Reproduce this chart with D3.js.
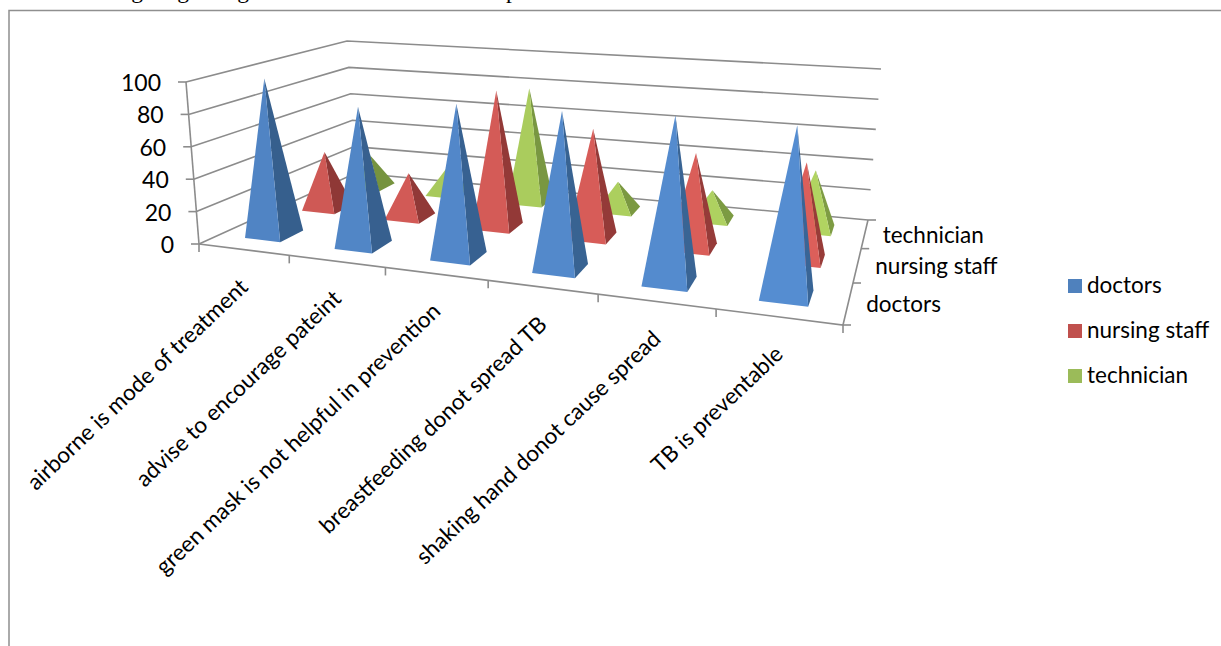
<!DOCTYPE html>
<html>
<head>
<meta charset="utf-8">
<script src="https://cdn.jsdelivr.net/npm/d3@7"></script>
<style>
  html, body { margin: 0; padding: 0; background: #fff; overflow: hidden; }
  text { font-family: Lato, "Open Sans", sans-serif; fill: #000; }
</style>
</head>
<body>
<div id="chart"></div>
<script>
// Data
const categories = ["airborne is mode of treatment", "advise to encourage pateint", "green mask is not helpful in prevention", "breastfeeding donot spread TB", "shaking hand donot cause spread", "TB is preventable"];
const seriesNames = ["doctors", "nursing staff", "technician"];
const doctors = [99, 86, 93, 94, 97, 97];
const nursingStaff = [38, 29, 89, 69, 59, 59];
const technician = [22, 19, 79, 19, 19, 38];
const valueTicks = [0, 20, 40, 60, 80, 100];

const seriesValues = [doctors, nursingStaff, technician];
const faceColors = [
    { front: "#5084c4", side: "#365f8d", key: "#4f81bd" },
    { front: "#cf5955", side: "#8f3836", key: "#c0504d" },
    { front: "#a6c75b", side: "#76933f", key: "#9bbb59" }
];

const width = 1221;
const height = 646;

const svg = d3.select("#chart").append("svg")
    .attr("width", width)
    .attr("height", height);

// Box corners on screen: [front-left, front-right, back-right, back-left]
const floorQuad = [[199, 244], [843, 325], [868, 220], [356, 173]];
const topQuad = [[186, 82], [857, 140], [881, 69], [347, 41]];

// The slots get wider towards the viewer, these two warp the 0-1 box coordinates
const warpU = u => u / (1.227 - 0.227 * u);
const warpT = t => 1.333 * t / (1 + 0.333 * t);

function bilinear(q, u, t) {
    const a = warpU(u), b = warpT(t);
    const fx = q[0][0] + (q[1][0] - q[0][0]) * a, fy = q[0][1] + (q[1][1] - q[0][1]) * a;
    const bx = q[3][0] + (q[2][0] - q[3][0]) * a, by = q[3][1] + (q[2][1] - q[3][1]) * a;
    return [fx + (bx - fx) * b, fy + (by - fy) * b];
}

// the library scales give the position inside the box (0-1 on each axis)
const uScale = d3.scaleBand().domain(d3.range(categories.length)).range([0, 1]);
const tScale = d3.scaleBand().domain(d3.range(seriesNames.length)).range([0, 1]);
const vScale = d3.scaleLinear().domain([0, 100]).range([0, 1]);

function project(u, t, value) {
    const v = vScale(value);
    const a = bilinear(floorQuad, u, t), b = bilinear(topQuad, u, t);
    return [a[0] + (b[0] - a[0]) * v, a[1] + (b[1] - a[1]) * v];
}

const line = d3.line();
const gridColor = "#8c8c8c";

// Page frame and the line of text that the crop cuts at the top edge
svg.append("path")
    .attr("d", "M9,646V10.5H1221")
    .attr("fill", "none")
    .attr("stroke", "#8f8f8f")
    .attr("stroke-width", 1.5);
svg.append("text")
    .attr("x", 113).attr("y", -2)
    .style("font-family", '"Liberation Serif", serif')
    .style("font-size", "23.5px")
    .style("word-spacing", "10px")
    .text("ing regarding");
svg.append("text")
    .attr("x", 506).attr("y", -2)
    .style("font-family", '"Liberation Serif", serif')
    .style("font-size", "23.5px")
    .text("p");

// Walls: gridlines on left and back wall
const grid = svg.append("g").attr("fill", "none").attr("stroke", gridColor).attr("stroke-width", 1.6);
valueTicks.forEach(v => {
    grid.append("path").attr("d", line([project(0, 0, v), project(0, 1, v), project(1, 1, v)]));
    // small tick left of the value axis
    const p = project(0, 0, v);
    grid.append("path").attr("d", line([[p[0] - 8, p[1]], p]));
    svg.append("text")
        .attr("x", p[0] - 25)
        .attr("y", p[1] + 9)
        .attr("text-anchor", "end")
        .style("font-size", "23px")
        .text(v);
});
grid.append("path").attr("d", line([project(0, 0, 0), project(0, 0, 100)]));

// Floor edges
grid.append("path").attr("d", line([project(0, 0, 0), project(1, 0, 0), project(1, 1, 0)]));

// Category ticks and rotated labels
categories.forEach((c, i) => {
    const p = project(uScale(i), 0, 0);
    grid.append("path").attr("d", line([p, [p[0], p[1] + 8]]));
    const q = project(uScale(i) + uScale.bandwidth() * 0.5, 0, 0);
    svg.append("text")
        .attr("transform", `translate(${q[0] + 6},${q[1] + 39}) rotate(-43.5)`)
        .attr("text-anchor", "end")
        .style("font-size", "22.5px")
        .text(c);
});
const endTick = project(1, 0, 0);
grid.append("path").attr("d", line([endTick, [endTick[0], endTick[1] + 8]]));

// Depth axis ticks and labels
[0, 1, 2, 3].forEach(k => {
    const p = project(1, k / 3, 0);
    grid.append("path").attr("d", line([p, [p[0] + 8, p[1]]]));
});
seriesNames.forEach((s, k) => {
    const p = project(1, tScale(k) + tScale.bandwidth() / 2, 0);
    svg.append("text")
        .attr("x", p[0] + 18)
        .attr("y", p[1] + 9)
        .style("font-size", "22.5px")
        .text(s);
});

// Pyramids, back row first so the front row covers it
const bw = uScale.bandwidth() * 0.2, bd = tScale.bandwidth() * 0.2;
const marks = svg.append("g");
[2, 1, 0].forEach(k => {
    const col = faceColors[k];
    seriesValues[k].forEach((value, i) => {
        const uc = uScale(i) + uScale.bandwidth() / 2;
        const tc = tScale(k) + tScale.bandwidth() / 2;
        const tip = project(uc, tc, value);
        const fl = project(uc - bw, tc - bd, 0);
        const fr = project(uc + bw, tc - bd, 0);
        const br = project(uc + bw, tc + bd, 0);
        // faces nearer the viewer come out a bit lighter
        const lift = i * 0.035;
        marks.append("path").attr("d", line([fr, br, tip]) + "Z").attr("fill", d3.color(col.side).brighter(lift));
        marks.append("path").attr("d", line([fl, fr, tip]) + "Z").attr("fill", d3.color(col.front).brighter(lift));
    });
});

// Legend
const legendY = d3.scalePoint().domain(seriesNames).range([285, 375]);
seriesNames.forEach((s, k) => {
    svg.append("rect")
        .attr("x", 1068).attr("y", legendY(s) - 6)
        .attr("width", 14).attr("height", 14)
        .attr("fill", faceColors[k].key);
    svg.append("text")
        .attr("x", 1087).attr("y", legendY(s) + 8)
        .style("font-size", "22.5px")
        .text(s);
});
</script>
</body>
</html>
